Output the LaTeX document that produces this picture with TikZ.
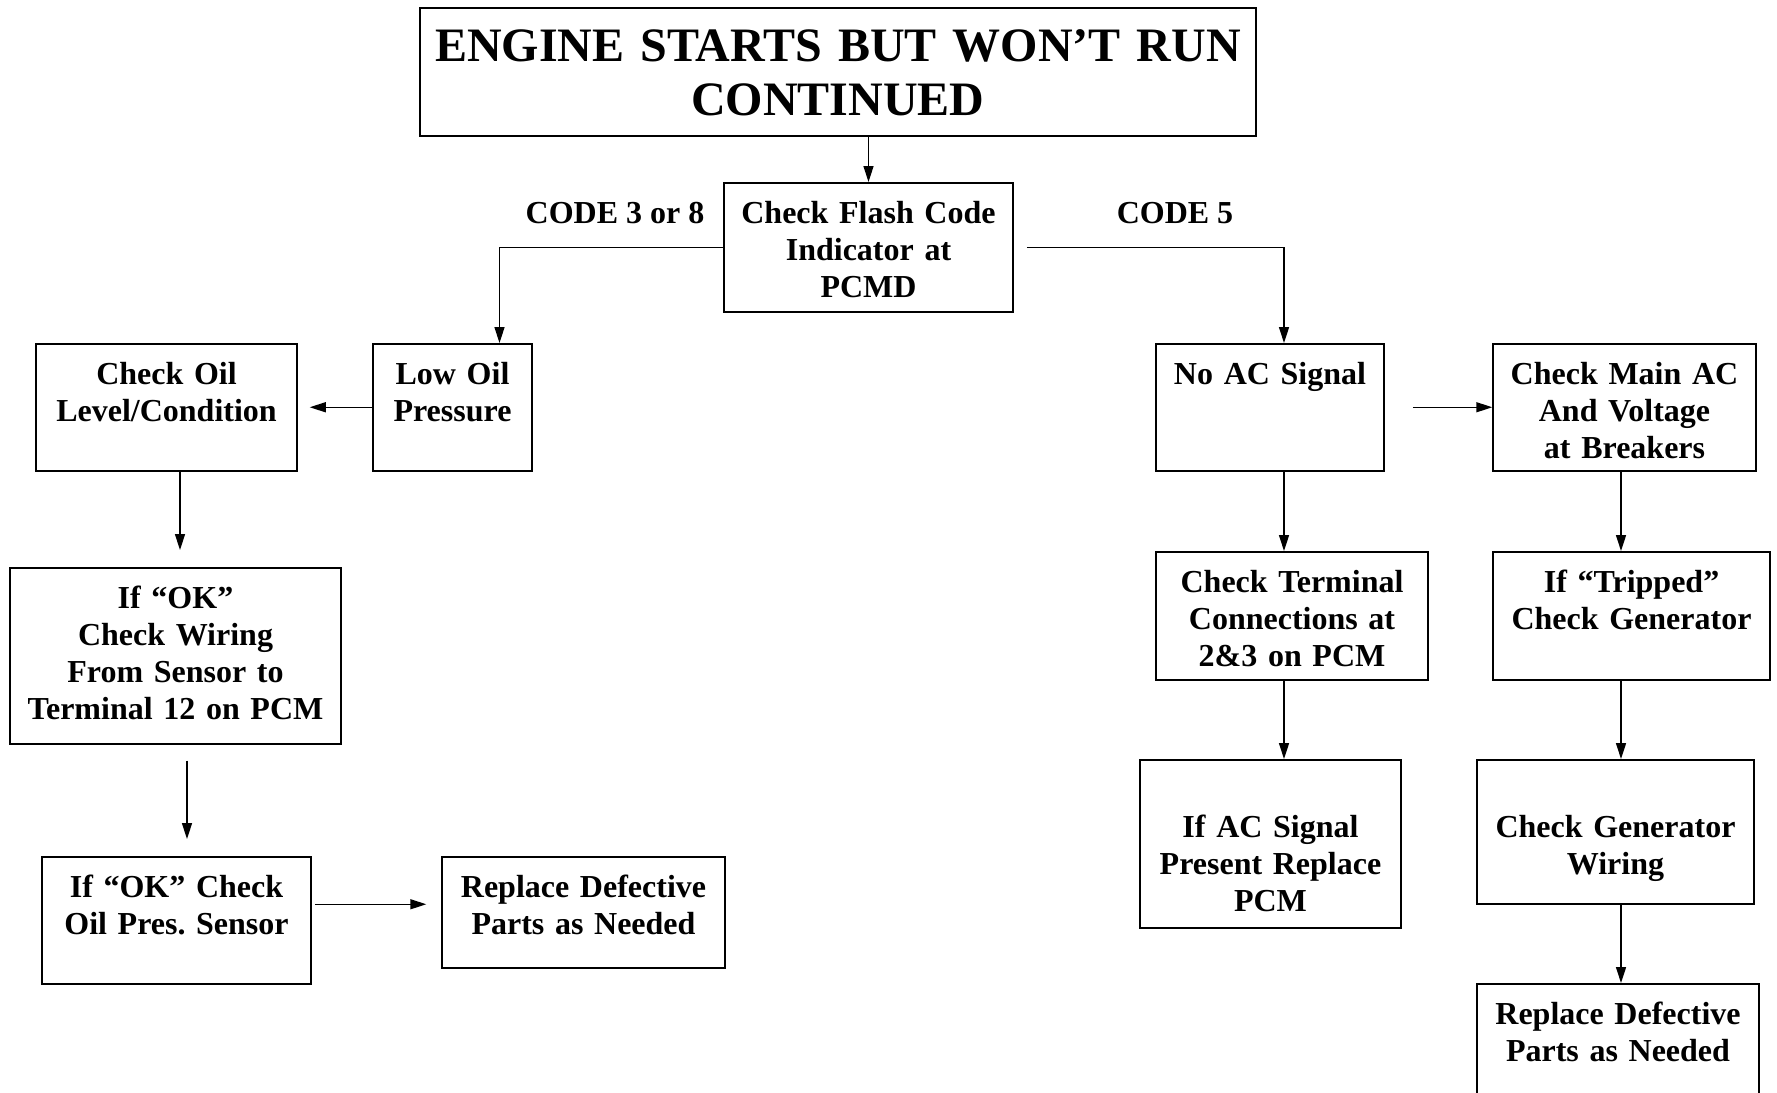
\documentclass[tikz,border=0pt]{standalone}
\usepackage{fontspec}
\setmainfont{Liberation Serif}
\usepackage{tikz}
\usetikzlibrary{arrows.meta,positioning}
\frenchspacing

\begin{document}
\begin{tikzpicture}[
  x=1pt, y=-1pt,
  font=\fontsize{32}{37}\selectfont\bfseries,
  box/.style={draw, line width=1.5pt, align=center, anchor=north, inner xsep=0pt, inner ysep=19pt, text height=22pt},
  flow/.style={-{Triangle[length=16pt, width=10pt]}, line width=1.5pt},
  code/.style={inner sep=2pt}
]
\useasboundingbox (0,0) rectangle (1777,1092);

\node[box, text width=836pt, inner ysep=21pt, text height=33pt, text depth=53pt, font=\fontsize{48}{54}\selectfont\bfseries] (title) at (838,7) {ENGINE STARTS BUT WON’T RUN\\CONTINUED};
\node[box, text width=289pt, text depth=69pt] (flash) at (868.5,182) {Check Flash Code\\Indicator at\\PCMD};

\node[code] (code38) at (615,213) {CODE 3 or 8};
\node[code] (code5) at (1175,213) {CODE 5};

\node[box, text width=159pt, text depth=67pt] (lowoil) at (452.5,343) {Low Oil\\Pressure};
\node[box, text width=261pt, text depth=67pt] (checkoil) at (166.5,343) {Check Oil\\Level/Condition};
\node[box, text width=331pt, text depth=116pt] (wiring) at (175.5,567) {If “OK”\\Check Wiring\\From Sensor to\\Terminal 12 on PCM};
\node[box, text width=269pt, text depth=67pt] (sensor) at (176.5,856) {If “OK” Check\\Oil Pres. Sensor};
\node[box, text width=283pt, text depth=51pt] (replaceL) at (583.5,856) {Replace Defective\\Parts as Needed};

\node[box, text width=228pt, text depth=67pt] (noac) at (1270,343) {No AC Signal};
\node[box, text width=263pt, text depth=67pt] (mainac) at (1624.5,343) {Check Main AC\\And Voltage\\at Breakers};
\node[box, text width=272pt, text depth=68pt] (terminal) at (1292,551) {Check Terminal\\Connections at\\2\&3 on PCM};
\node[box, text width=277pt, text depth=68pt] (tripped) at (1631.5,551) {If “Tripped”\\Check Generator};
\node[box, text width=261pt, text height=59pt, text depth=71pt] (acpresent) at (1270.5,759) {If AC Signal\\Present Replace\\PCM};
\node[box, text width=277pt, text height=59pt, text depth=47pt] (genwiring) at (1615.5,759) {Check Generator\\Wiring};
\node[box, text width=282pt, text depth=90pt] (replaceR) at (1618,983) {Replace Defective\\Parts as Needed};

\draw[flow] (flash.north |- title.south) -- (flash.north);
\draw[flow] (flash.west) -| ([xshift=47pt]lowoil.north);
\draw[flow] ([xshift=13pt]flash.east) -| ([xshift=14pt]noac.north);

\draw[flow] (lowoil.west) -- ([xshift=12pt]checkoil.east);
\draw[flow] ([xshift=13.5pt]checkoil.south) -- ([xshift=13.5pt, yshift=17pt]checkoil.south |- wiring.north);
\draw[flow] ([xshift=11.5pt, yshift=-16pt]wiring.south) -- ([xshift=11.5pt, yshift=17pt]wiring.south |- sensor.north);
\draw[flow] ([xshift=3pt, yshift=16pt]sensor.east) -- ([xshift=-15pt, yshift=16pt]sensor.east -| replaceL.west);

\draw[flow] ([xshift=28pt]noac.east) -- (mainac.west);
\draw[flow] ([xshift=14pt]noac.south) -- ([xshift=14pt]noac.south |- terminal.north);
\draw[flow] ([xshift=-8pt]terminal.south) -- ([xshift=-8pt]terminal.south |- acpresent.north);
\draw[flow] ([xshift=-3.5pt]mainac.south) -- ([xshift=-3.5pt]mainac.south |- tripped.north);
\draw[flow] ([xshift=-10.5pt]tripped.south) -- ([xshift=-10.5pt]tripped.south |- genwiring.north);
\draw[flow] ([xshift=5.5pt]genwiring.south) -- ([xshift=5.5pt]genwiring.south |- replaceR.north);
\end{tikzpicture}
\end{document}
